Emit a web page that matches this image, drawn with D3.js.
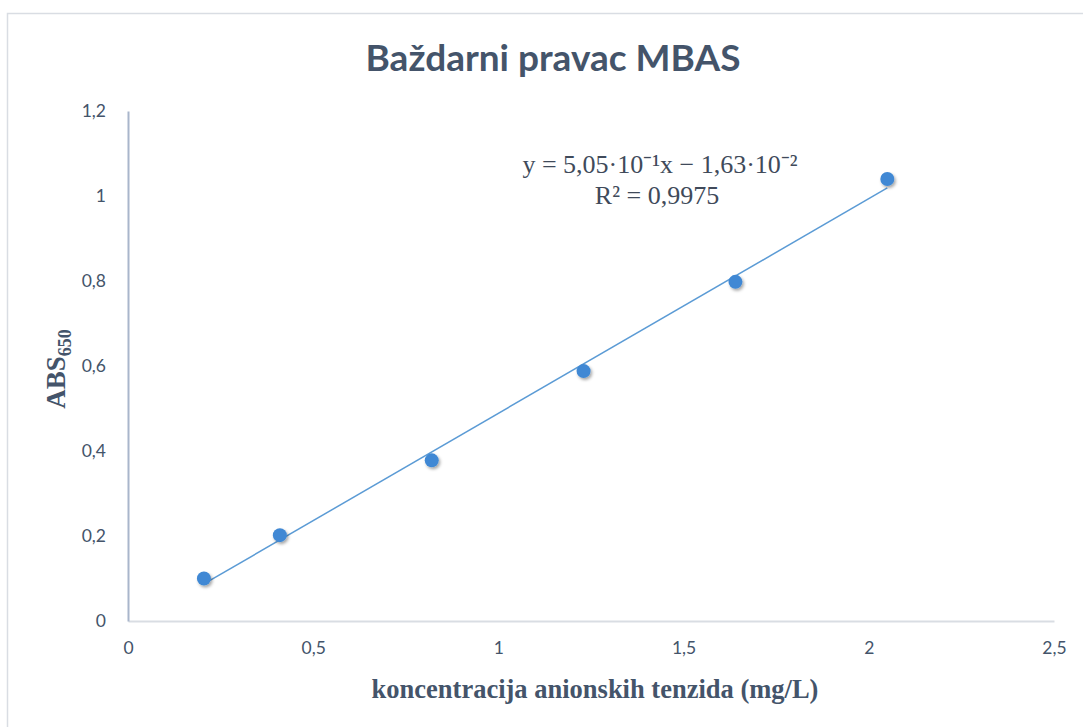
<!DOCTYPE html>
<html>
<head>
<meta charset="utf-8">
<script src="https://cdn.jsdelivr.net/npm/d3@7"></script>
<style>
  body { margin: 0; background: #fff; }
</style>
</head>
<body>
<div id="chart"></div>
<script>
// data
var concentrations = [0.205, 0.41, 0.82, 1.23, 1.64, 2.05];
var absorbances = [0.10, 0.202, 0.378, 0.588, 0.798, 1.04];
var xTicks = [0, 0.5, 1, 1.5, 2, 2.5];
var yTicks = [0, 0.2, 0.4, 0.6, 0.8, 1, 1.2];
var slope = 0.505, intercept = -0.0163;

var W = 1083, H = 727;
var margin = { top: 111, right: 22, bottom: 106, left: 128 },
    width = W - margin.left - margin.right,
    height = H - margin.top - margin.bottom;

var svg = d3.select("#chart").append("svg")
    .attr("width", W)
    .attr("height", H);

// outer chart border
svg.append("rect")
    .attr("x", 7.5).attr("y", 13.5)
    .attr("width", W + 20).attr("height", H + 20)
    .attr("fill", "none")
    .attr("stroke", "#d9dde3")
    .attr("stroke-width", 1.5);

var defs = svg.append("defs");
var f = defs.append("filter").attr("id", "shadow")
    .attr("x", "-50%").attr("y", "-50%").attr("width", "200%").attr("height", "200%");
f.append("feDropShadow").attr("dx", 1.5).attr("dy", 2)
    .attr("stdDeviation", 1.5).attr("flood-color", "#000").attr("flood-opacity", 0.35);

var g = svg.append("g")
    .attr("transform", "translate(" + margin.left + "," + margin.top + ")");

var x = d3.scaleLinear().domain([0, 2.5]).range([0, 926]);
var y = d3.scaleLinear().domain([0, 1.2]).range([height, 0]);

var fmt = function (d) { return String(d).replace(".", ","); };

// x axis
var xAxis = g.append("g")
    .attr("transform", "translate(0," + height + ")")
    .call(d3.axisBottom(x).tickValues(xTicks).tickFormat(fmt).tickSize(0).tickPadding(21));
xAxis.select(".domain").attr("stroke", "#d9dde3").attr("stroke-width", 2);
xAxis.selectAll("text")
    .style("font-family", "Lato, 'Open Sans', sans-serif")
    .style("font-size", "17.5px")
    .attr("fill", "#44546a");

// y axis
var yAxis = g.append("g")
    .call(d3.axisLeft(y).tickValues(yTicks).tickFormat(fmt).tickSize(0).tickPadding(22));
yAxis.select(".domain").attr("stroke", "#a9b6cb").attr("stroke-width", 2);
yAxis.selectAll("text")
    .style("font-family", "Lato, 'Open Sans', sans-serif")
    .style("font-size", "17.5px")
    .attr("fill", "#44546a");

// trend line
var x0 = d3.min(concentrations), x1 = d3.max(concentrations);
g.append("line")
    .attr("x1", x(x0)).attr("y1", y(slope * x0 + intercept))
    .attr("x2", x(x1)).attr("y2", y(slope * x1 + intercept))
    .attr("stroke", "#5b9bd5")
    .attr("stroke-width", 1.5);

// points
var pts = concentrations.map(function (c, i) { return { c: c, a: absorbances[i] }; });
g.selectAll("circle.pt")
    .data(pts)
    .enter()
    .append("circle")
    .attr("class", "pt")
    .attr("cx", function (d) { return x(d.c); })
    .attr("cy", function (d) { return y(d.a); })
    .attr("r", 7)
    .attr("fill", "#3f88d4")
    .attr("filter", "url(#shadow)");

// title
svg.append("text")
    .attr("x", 553).attr("y", 71)
    .attr("text-anchor", "middle")
    .style("font-family", "Lato, 'Open Sans', sans-serif")
    .style("font-weight", "bold")
    .style("font-size", "37px")
    .attr("fill", "#44546a")
    .text("Baždarni pravac MBAS");

// equation
var eq = svg.append("g")
    .style("font-family", "'Liberation Serif', 'Times New Roman', serif")
    .style("font-size", "26px")
    .attr("fill", "#404a5a");
eq.append("text").attr("x", 660).attr("y", 173).attr("text-anchor", "middle")
    .text("y = 5,05·10\u207B\u00B9x \u2212 1,63·10\u207B\u00B2");
eq.append("text").attr("x", 657).attr("y", 204).attr("text-anchor", "middle")
    .text("R\u00B2 = 0,9975");

// axis titles
svg.append("text")
    .attr("x", 595).attr("y", 698)
    .attr("text-anchor", "middle")
    .style("font-family", "'Liberation Serif', 'Times New Roman', serif")
    .style("font-weight", "bold")
    .style("font-size", "26.5px")
    .attr("fill", "#44546a")
    .text("koncentracija anionskih tenzida (mg/L)");

var yt = svg.append("text")
    .attr("transform", "translate(65,369) rotate(-90)")
    .attr("text-anchor", "middle")
    .style("font-family", "'Liberation Serif', 'Times New Roman', serif")
    .style("font-weight", "bold")
    .style("font-size", "27px")
    .attr("fill", "#44546a");
yt.append("tspan").text("ABS");
yt.append("tspan").attr("dy", 6).style("font-size", "18px").text("650");
</script>
</body>
</html>
